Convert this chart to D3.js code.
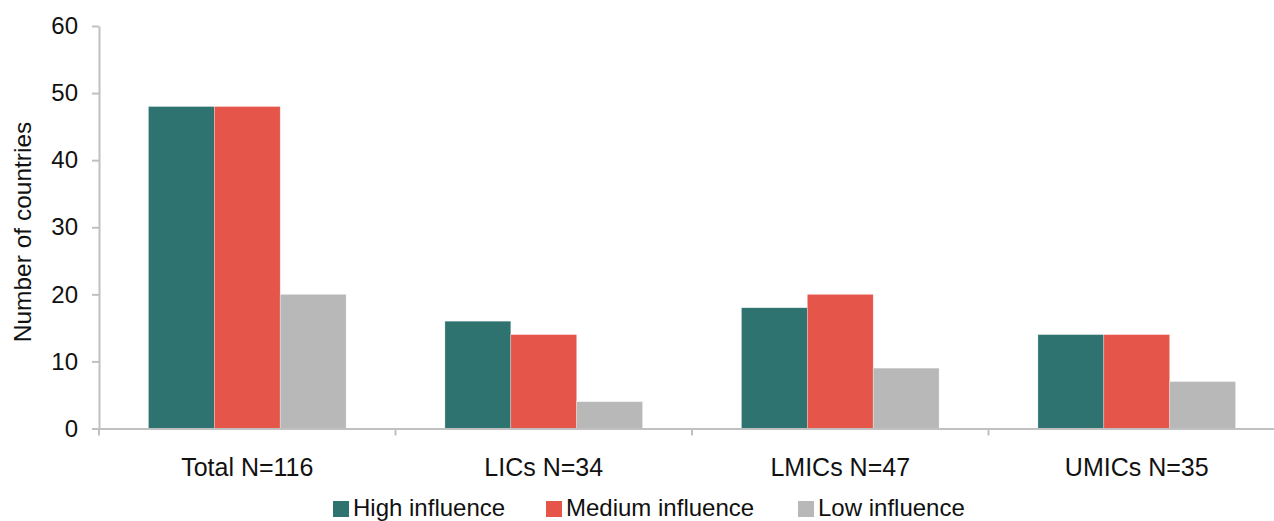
<!DOCTYPE html>
<html>
<head>
<meta charset="utf-8">
<script src="https://cdn.jsdelivr.net/npm/d3@7"></script>
<style>
  html, body { margin: 0; padding: 0; background: #ffffff; }
  svg { display: block; font-family: "Liberation Sans", Arial, sans-serif; }
</style>
</head>
<body>
<svg id="chart" width="1274" height="521"></svg>
<script>
// Country groups and counts per influence level
const categories = ["Total N=116", "LICs N=34", "LMICs N=47", "UMICs N=35"];
const seriesNames = ["High influence", "Medium influence", "Low influence"];
const highInfluence = [48, 16, 18, 14];
const mediumInfluence = [48, 14, 20, 14];
const lowInfluence = [20, 4, 9, 7];
const yTicks = [0, 10, 20, 30, 40, 50, 60];
const colors = ["#2e7370", "#e5554a", "#b8b8b8"];

const seriesValues = [highInfluence, mediumInfluence, lowInfluence];
const rows = categories.map((c, i) => ({
  category: c,
  values: seriesNames.map((s, j) => ({ series: s, value: seriesValues[j][i] }))
}));

const svg = d3.select("#chart");
const axisColor = "#c0c0c0";

const x = d3.scaleBand().domain(categories).range([99, 1285]).paddingInner(0).paddingOuter(0);
const xSub = d3.scaleBand().domain(seriesNames).range([0, x.bandwidth()]).paddingInner(0).paddingOuter(0.75);
const y = d3.scaleLinear().domain([0, 60]).range([428.5, 26]);
const color = d3.scaleOrdinal().domain(seriesNames).range(colors);

// Bars
const groups = svg.append("g").selectAll("g")
  .data(rows).join("g")
  .attr("transform", d => `translate(${x(d.category)},0)`);

groups.selectAll("rect")
  .data(d => d.values).join("rect")
  .attr("x", d => xSub(d.series))
  .attr("y", d => y(d.value))
  .attr("width", xSub.bandwidth())
  .attr("height", d => y(0) - y(d.value))
  .attr("fill", d => color(d.series))
  .attr("stroke", "#ffffff")
  .attr("stroke-opacity", 0.5)
  .attr("stroke-width", 0.6);

// Y axis
const yAxis = svg.append("g")
  .attr("transform", "translate(99,0)")
  .call(d3.axisLeft(y).tickValues(yTicks).tickSize(7).tickPadding(14).tickSizeOuter(0));
yAxis.select(".domain").attr("stroke", axisColor).attr("stroke-width", 2);
yAxis.selectAll(".tick line").attr("stroke", axisColor).attr("stroke-width", 2);
yAxis.selectAll(".tick text")
  .attr("fill", "#111")
  .style("font-size", "24px")
  .style("font-family", "'Liberation Sans', Arial, sans-serif");

// X axis
const xAxis = svg.append("g")
  .attr("transform", `translate(0,${y(0)})`)
  .call(d3.axisBottom(x).tickSize(0).tickPadding(30).tickSizeOuter(0));
xAxis.select(".domain").attr("stroke", axisColor).attr("stroke-width", 2);
xAxis.selectAll(".tick text")
  .attr("fill", "#111")
  .style("font-size", "25px")
  .style("font-family", "'Liberation Sans', Arial, sans-serif");

// Category boundary tick marks
svg.append("g").selectAll("line")
  .data(categories).join("line")
  .attr("x1", d => x(d)).attr("x2", d => x(d))
  .attr("y1", y(0)).attr("y2", y(0) + 7)
  .attr("stroke", axisColor).attr("stroke-width", 2);

// Y axis title
svg.append("text")
  .attr("transform", "translate(31,232) rotate(-90)")
  .attr("text-anchor", "middle")
  .attr("fill", "#111")
  .style("font-size", "24.5px")
  .text("Number of countries");

// Legend
const legendX = [333, 546, 798];
const legend = svg.append("g").selectAll("g")
  .data(seriesNames).join("g")
  .attr("transform", (d, i) => `translate(${legendX[i]},0)`);
legend.append("rect")
  .attr("x", 0).attr("y", 501)
  .attr("width", 16).attr("height", 16)
  .attr("fill", d => color(d));
legend.append("text")
  .attr("x", 20).attr("y", 516)
  .attr("fill", "#111")
  .style("font-size", "24px")
  .text(d => d);
</script>
</body>
</html>
